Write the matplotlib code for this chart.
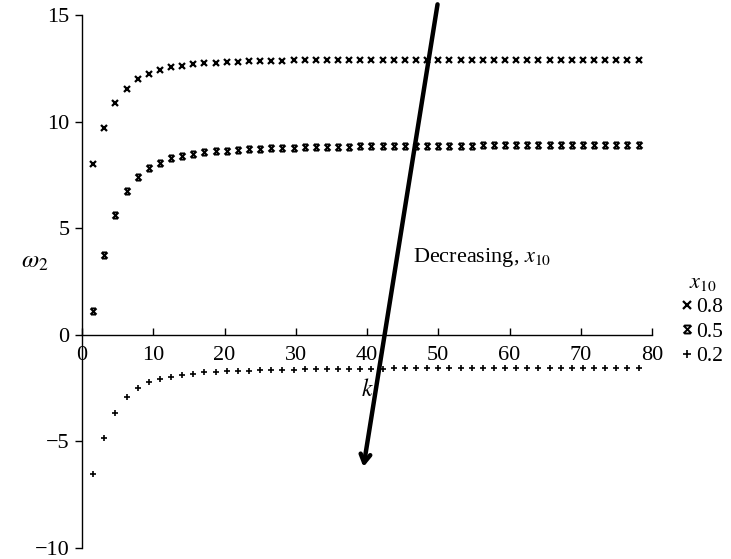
import matplotlib
matplotlib.use("Agg")
import matplotlib.pyplot as plt
from matplotlib.path import Path

plt.rcParams['font.family'] = ['Liberation Serif', 'DejaVu Serif']
plt.rcParams['mathtext.fontset'] = 'stix'

k = [1.56, 3.13, 4.69, 6.25, 7.81, 9.38, 10.94, 12.5, 14.06, 15.63,
     17.19, 18.75, 20.31, 21.88, 23.44, 25.0, 26.56, 28.13, 29.69, 31.25,
     32.81, 34.38, 35.94, 37.5, 39.06, 40.63, 42.19, 43.75, 45.31, 46.88,
     48.44, 50.0, 51.56, 53.13, 54.69, 56.25, 57.81, 59.38, 60.94, 62.5,
     64.06, 65.63, 67.19, 68.75, 70.31, 71.88, 73.44, 75.0, 76.56, 78.13]

w_08 = [8.03, 9.70, 10.88, 11.55, 12.01, 12.25, 12.43, 12.54, 12.62, 12.68,
        12.74, 12.77, 12.78, 12.81, 12.83, 12.84, 12.85, 12.86, 12.87, 12.87,
        12.88, 12.88, 12.88, 12.89, 12.89, 12.89, 12.89, 12.89, 12.90, 12.90,
        12.90, 12.90, 12.90, 12.90, 12.90, 12.90, 12.90, 12.90, 12.90, 12.90,
        12.90, 12.90, 12.90, 12.90, 12.90, 12.90, 12.90, 12.90, 12.90, 12.90]

w_05 = [1.11, 3.72, 5.60, 6.75, 7.40, 7.81, 8.08, 8.28, 8.39, 8.48,
        8.56, 8.62, 8.64, 8.67, 8.71, 8.73, 8.75, 8.77, 8.78, 8.79,
        8.80, 8.81, 8.82, 8.83, 8.84, 8.84, 8.85, 8.85, 8.86, 8.86,
        8.86, 8.87, 8.87, 8.87, 8.87, 8.88, 8.88, 8.88, 8.88, 8.88,
        8.88, 8.88, 8.89, 8.89, 8.89, 8.89, 8.89, 8.89, 8.89, 8.89]

w_02 = [-6.54, -4.83, -3.66, -2.94, -2.49, -2.23, -2.09, -1.98, -1.89, -1.82,
        -1.76, -1.73, -1.71, -1.69, -1.68, -1.66, -1.65, -1.64, -1.63, -1.62,
        -1.61, -1.61, -1.60, -1.60, -1.59, -1.59, -1.59, -1.58, -1.58, -1.58,
        -1.58, -1.57, -1.57, -1.57, -1.57, -1.57, -1.57, -1.56, -1.56, -1.56,
        -1.56, -1.56, -1.56, -1.56, -1.56, -1.56, -1.56, -1.56, -1.56, -1.56]

series_labels = ['0.8', '0.5', '0.2']
x_ticks = [0, 10, 20, 30, 40, 50, 60, 70, 80]
y_ticks = [-10, -5, 0, 5, 10, 15]

# hourglass-like star marker (x with bars top and bottom)
star_marker = Path([(-1, -1), (1, 1), (-1, 1), (1, -1), (-0.8, 1), (0.8, 1), (-0.8, -1), (0.8, -1)],
                   [Path.MOVETO, Path.LINETO, Path.MOVETO, Path.LINETO,
                    Path.MOVETO, Path.LINETO, Path.MOVETO, Path.LINETO])

fig = plt.figure(figsize=(7.31, 5.59), dpi=100)
ax = fig.add_axes([82/731, 1 - 548/559, (652 - 82)/731, (548 - 15)/559])
ax.set_xlim(0, 80)
ax.set_ylim(-10, 15)

ax.plot(k, w_08, linestyle='none', marker='x', ms=4.2, mew=1.6, color='black', label=series_labels[0])
ax.plot(k, w_05, linestyle='none', marker=star_marker, ms=4.4, mew=1.4, color='black', label=series_labels[1])
ax.plot(k, w_02, linestyle='none', marker='+', ms=4.6, mew=1.2, color='black', label=series_labels[2])

for s in ['top', 'right']:
    ax.spines[s].set_visible(False)
ax.spines['bottom'].set_position(('data', 0))
ax.spines['bottom'].set_linewidth(1.0)
ax.spines['left'].set_linewidth(1.0)

ax.set_xticks(x_ticks)
ax.set_yticks(y_ticks)
ax.set_yticklabels(['\u221210', '\u22125', '0', '5', '10', '15'])
ax.tick_params(axis='x', direction='in', length=5, width=1, labelsize=16, pad=8)
ax.tick_params(axis='y', direction='out', length=5, width=1, labelsize=16, pad=4)

ax.text(-6.6, 3.4, r'$\omega_2$', fontsize=18, ha='center', va='center')
ax.text(40.0, -2.6, r'$k$', fontsize=17, ha='center', va='center')
ax.text(46.4, 3.62, r'Decreasing, $x_{10}$', fontsize=16, ha='left', va='center')

ax.annotate('', xy=(39.5, -6.2), xytext=(49.9, 15.5), xycoords='data',
            arrowprops=dict(arrowstyle='->,head_length=0.6,head_width=0.35', lw=3.2, color='black',
                            shrinkA=0, shrinkB=0), annotation_clip=False)

handles, labels = ax.get_legend_handles_labels()
leg = fig.legend(handles, labels, title=r'$x_{10}$', loc='center left',
                 bbox_to_anchor=(668/731, 1 - 320/559), bbox_transform=fig.transFigure,
                 frameon=False, fontsize=15.5, title_fontsize=16, handlelength=0.4,
                 handletextpad=0.2, labelspacing=0.2, markerscale=1.3, borderpad=0.2)

fig.savefig('out.png', dpi=100)
